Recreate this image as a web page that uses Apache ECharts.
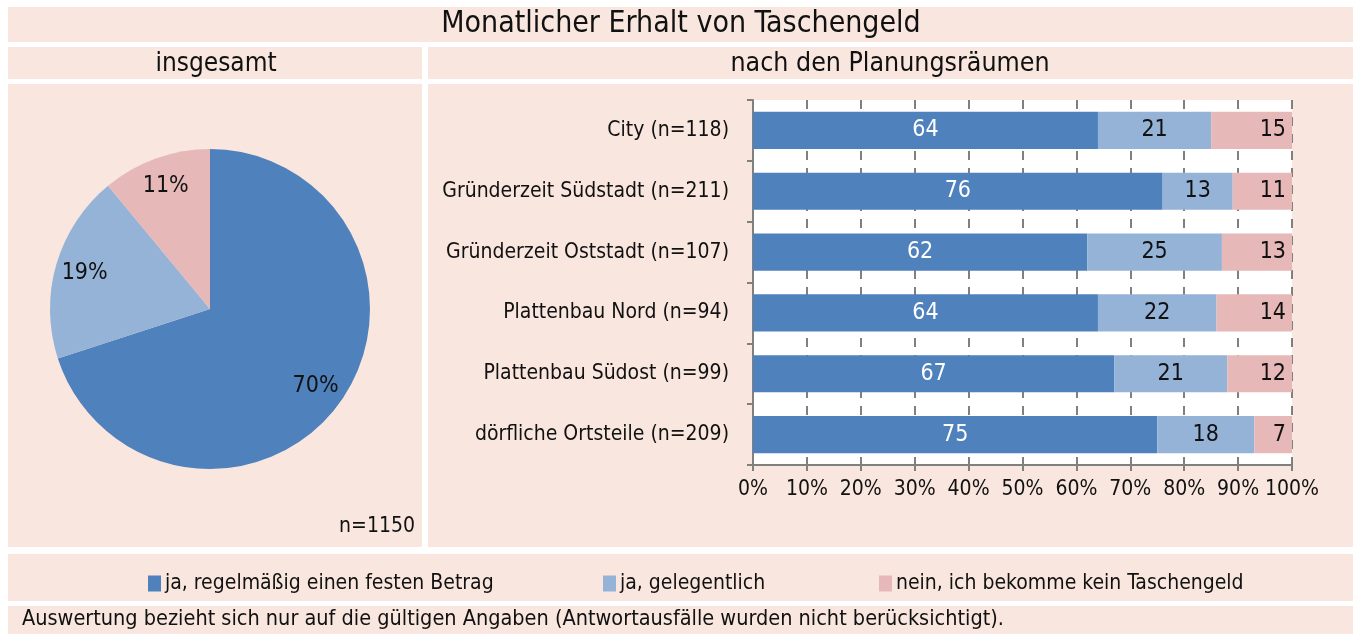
<!DOCTYPE html>
<html>
<head>
<meta charset="utf-8">
<script src="https://cdn.jsdelivr.net/npm/echarts@6/dist/echarts.min.js"></script>
<style>
  html, body { margin: 0; padding: 0; background: #fff; }
  #chart { width: 1361px; height: 634px; }
</style>
</head>
<body>
<div id="chart"></div>
<script>
// Daten
var categories = ['City (n=118)', 'Gründerzeit Südstadt (n=211)', 'Gründerzeit Oststadt (n=107)',
  'Plattenbau Nord (n=94)', 'Plattenbau Südost (n=99)', 'dörfliche Ortsteile (n=209)'];
var seriesNames = ['ja, regelmäßig einen festen Betrag', 'ja, gelegentlich', 'nein, ich bekomme kein Taschengeld'];
var regelmaessig = [64, 76, 62, 64, 67, 75];
var gelegentlich = [21, 13, 25, 22, 21, 18];
var keins = [15, 11, 13, 14, 12, 7];
var gesamt = [70, 19, 11];

var colors = ['#4f81bd', '#95b3d7', '#e6b9b8'];
var bg = '#f9e7df';
var FONT = "'Liberation Sans Narrow', 'DejaVu Sans Condensed', 'Roboto Condensed', 'Noto Sans', sans-serif";

var chart = echarts.init(document.getElementById('chart'));

// Hintergrundflächen
function band(x, y, w, h) {
  return { type: 'rect', z: -10, shape: { x: x, y: y, width: w, height: h }, style: { fill: bg } };
}
function text(t, x, y, size, align) {
  return { type: 'text', z: 10, x: x, y: y,
    style: { text: t, fontSize: size, fontFamily: FONT, fill: '#111', textAlign: align || 'center', verticalAlign: 'middle' } };
}

var pieData = gesamt.map(function (v, i) { return { name: seriesNames[i], value: v }; });

var option = {
  animation: false,
  color: colors,
  textStyle: { fontFamily: FONT },
  graphic: [
    band(8, 7, 1345, 35),
    band(8, 47, 414, 32),
    band(428, 47, 925, 32),
    band(8, 84, 414, 463),
    band(428, 84, 925, 463),
    band(8, 554, 1345, 47),
    band(8, 606, 1345, 28),
    text('Monatlicher Erhalt von Taschengeld', 681, 24, 30),
    text('insgesamt', 216, 64, 26),
    text('nach den Planungsräumen', 890, 64, 26.5),
    text('n=1150', 415, 527, 21, 'right'),
    text('Auswertung bezieht sich nur auf die gültigen Angaben (Antwortausfälle wurden nicht berücksichtigt).', 22, 619, 21.5, 'left')
  ],
  legend: seriesNames.map(function (n, i) {
    return {
      data: [n], left: [143, 598, 874][i], top: 568,
      icon: 'rect', itemWidth: 13, itemHeight: 16, itemGap: 0,
      textStyle: { fontSize: 21, fontFamily: FONT, color: '#111', padding: [0, 0, 0, -1] },
      selectedMode: false
    };
  }),
  grid: {
    left: 753, right: 69, top: 100, bottom: 169,
    show: true, backgroundColor: '#fff', borderWidth: 0
  },
  xAxis: {
    type: 'value', min: 0, max: 100, interval: 10,
    axisLine: { show: true, lineStyle: { color: '#808080', width: 2 } },
    axisTick: { show: true, length: 6, lineStyle: { color: '#808080', width: 2 } },
    axisLabel: { formatter: '{value}%', fontSize: 21, color: '#111', margin: 14, fontFamily: FONT },
    splitLine: { show: true, lineStyle: { color: '#808080', width: 2, type: [9, 8] } }
  },
  yAxis: {
    type: 'category', data: categories, inverse: true,
    axisLine: { show: true, lineStyle: { color: '#808080', width: 2 } },
    axisTick: { show: true, length: 6, lineStyle: { color: '#808080', width: 2 } },
    axisLabel: { fontSize: 21, color: '#111', margin: 24, fontFamily: FONT }
  },
  series: [
    {
      name: seriesNames[0], type: 'bar', stack: 'a', data: regelmaessig, barCategoryGap: '39%',
      label: { show: true, position: 'inside', color: '#fff', fontSize: 23, fontFamily: FONT }
    },
    {
      name: seriesNames[1], type: 'bar', stack: 'a', data: gelegentlich,
      label: { show: true, position: 'inside', color: '#111', fontSize: 23, fontFamily: FONT }
    },
    {
      name: seriesNames[2], type: 'bar', stack: 'a', data: keins,
      label: { show: true, position: 'insideRight', distance: 6, color: '#111', fontSize: 23, fontFamily: FONT }
    },
    {
      type: 'pie', center: [210, 309], radius: [0, 160], startAngle: 90, clockwise: true,
      data: pieData, label: { show: false }, labelLine: { show: false }, silent: true
    },
    {
      // nur Beschriftung des Kreisdiagramms
      type: 'pie', center: [210, 309], radius: [95, 160], startAngle: 90, clockwise: true,
      data: pieData, itemStyle: { color: 'rgba(0,0,0,0)' }, silent: true, z: 5,
      label: { show: true, position: 'inside', formatter: '{c}%', color: '#111', fontSize: 23, fontFamily: FONT },
      labelLine: { show: false }
    }
  ]
};
chart.setOption(option);
</script>
</body>
</html>
